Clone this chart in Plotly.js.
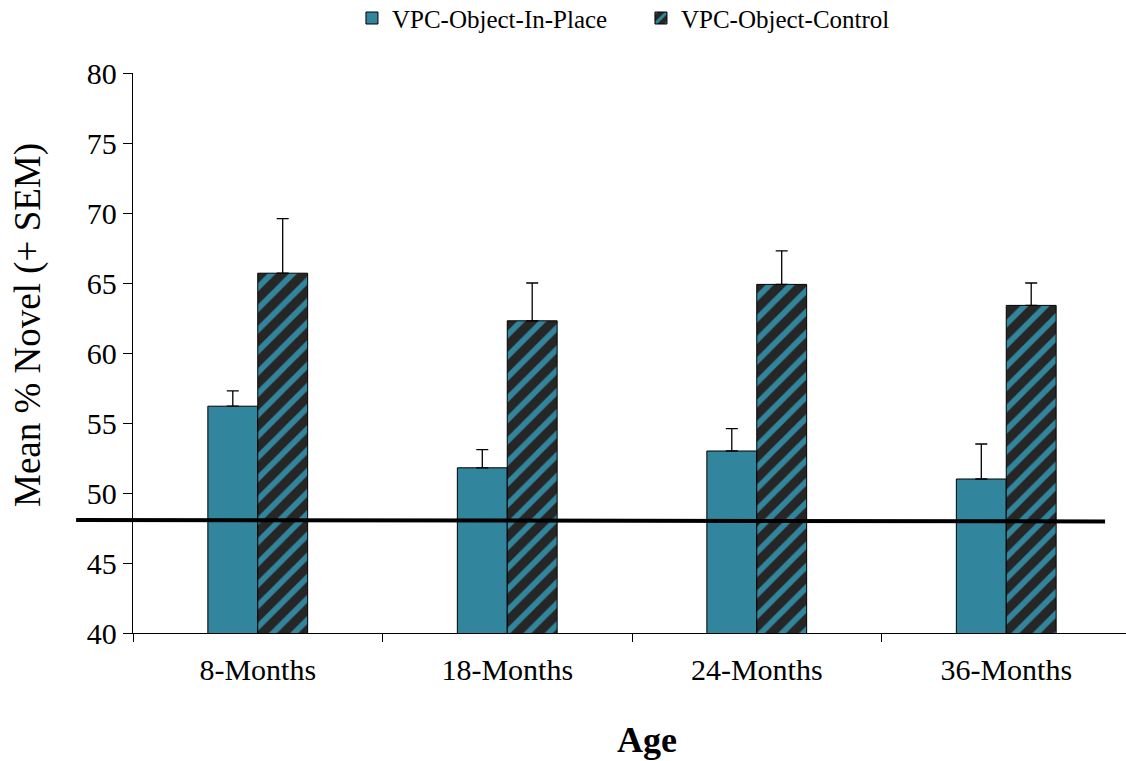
<!DOCTYPE html>
<html>
<head>
<meta charset="utf-8">
<script src="https://cdn.plot.ly/plotly-3.0.1.min.js"></script>
<style>
html,body{margin:0;padding:0;overflow:hidden;background:#fff;}
#chart{width:1131px;height:761px;}
</style>
</head>
<body>
<div id="chart"></div>
<script>
const categories = ["8-Months", "18-Months", "24-Months", "36-Months"];
const inPlaceMeans = [56.2, 51.8, 53.0, 51.0];
const inPlaceSEM = [1.1, 1.3, 1.6, 2.5];
const controlMeans = [65.7, 62.3, 64.9, 63.4];
const controlSEM = [3.9, 2.7, 2.4, 1.6];
const chanceLine = [48.07, 47.97];
const yTicks = [40, 45, 50, 55, 60, 65, 70, 75, 80];

const font = "'Liberation Serif', 'Times New Roman', serif";
const teal = "#31859C";

const traces = [
  {
    type: "bar", name: "VPC-Object-In-Place", x: categories, y: inPlaceMeans,
    marker: {color: teal, line: {color: "#000", width: 1}},
    error_y: {type: "data", array: inPlaceSEM, arrayminus: inPlaceSEM.map(() => 0), symmetric: false,
      color: "#000", thickness: 1.3, width: 6}
  },
  {
    type: "bar", name: "VPC-Object-Control", x: categories, y: controlMeans,
    marker: {color: "#262626", line: {color: "#000", width: 1},
      pattern: {shape: "/", fgcolor: teal, bgcolor: "#262626", size: 15, solidity: 0.38, fillmode: "replace"}},
    error_y: {type: "data", array: controlSEM, arrayminus: controlSEM.map(() => 0), symmetric: false,
      color: "#000", thickness: 1.3, width: 6}
  }
];

const layout = {
  width: 1131, height: 761,
  margin: {l: 133, r: 0, t: 73, b: 128, autoexpand: false},
  paper_bgcolor: "#fff", plot_bgcolor: "#fff",
  font: {family: font, color: "#000"},
  barmode: "group", bargap: 0.6, bargroupgap: 0,
  showlegend: true,
  legend: {orientation: "h", x: 0.2194, xanchor: "left", yref: "container", y: 0.976, yanchor: "middle",
    font: {family: font, size: 25, color: "#000"}, traceorder: "normal", itemwidth: 30,
    entrywidth: 244, entrywidthmode: "pixels"},
  xaxis: {
    type: "category", showline: true, linecolor: "#000", linewidth: 1.3,
    ticks: "outside", tickson: "boundaries", ticklen: 8, tickcolor: "#000",
    tickfont: {family: font, size: 30, color: "#000"}, ticklabelstandoff: 10,
    showgrid: false, zeroline: false, automargin: false
  },
  yaxis: {
    range: [40, 80], tickvals: yTicks, showline: true, linecolor: "#000", linewidth: 1.3,
    ticks: "outside", ticklen: 9, tickcolor: "#000",
    tickfont: {family: font, size: 30, color: "#000"},
    showgrid: false, zeroline: false, automargin: false
  },
  annotations: [
    {text: "<b>Age</b>", xref: "paper", yref: "paper", x: 0.515, y: -0.191, xanchor: "center", yanchor: "middle",
     showarrow: false, font: {family: font, size: 36, color: "#000"}},
    {text: "Mean % Novel (+ SEM)", xref: "paper", yref: "paper", x: -0.1052, y: 0.55, xanchor: "center", yanchor: "middle",
     textangle: -90, showarrow: false, font: {family: font, size: 37, color: "#000"}}
  ],
  shapes: [
    {type: "line", xref: "paper", yref: "y", x0: -0.057, x1: 0.974, y0: chanceLine[0], y1: chanceLine[1],
     line: {color: "#000", width: 4}, layer: "above"}
  ]
};

Plotly.newPlot("chart", traces, layout, {displayModeBar: false, staticPlot: true});
</script>
</body>
</html>
